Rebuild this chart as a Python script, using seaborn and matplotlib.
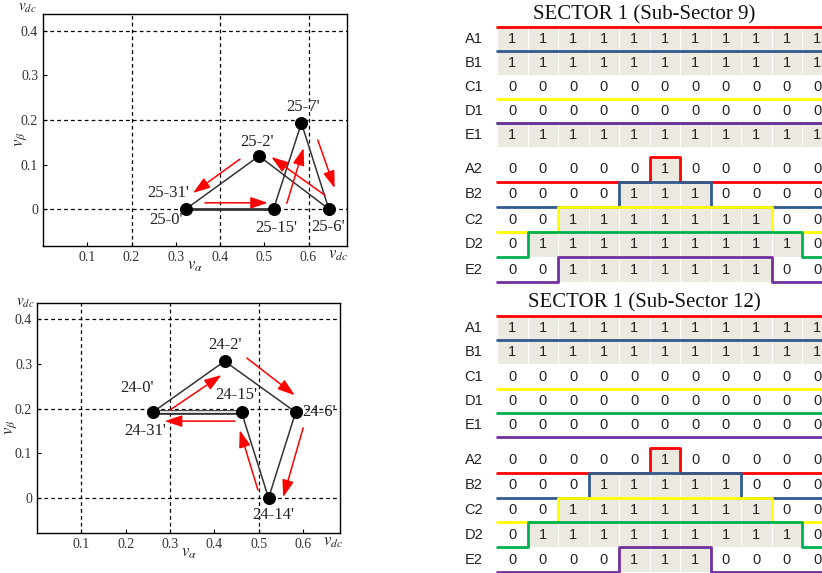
import numpy as np
import matplotlib
matplotlib.use("Agg")
import matplotlib.pyplot as plt
import matplotlib.transforms as mtransforms
from matplotlib import font_manager
from matplotlib.colors import ListedColormap
import seaborn as sns

sns.set_theme(style="white")
plt.rcParams['font.family'] = ['Liberation Serif', 'DejaVu Serif']
plt.rcParams['mathtext.fontset'] = 'stix'

# space vectors, sub-sector 9 (top left)
sv9_names = ["25-0'", "25-2'", "25-6'", "25-7'", "25-15'"]
sv9_alpha = [0.323, 0.488, 0.646, 0.584, 0.521]
sv9_beta = [0.0, 0.119, 0.0, 0.193, 0.0]
sv9_path = [0, 1, 2, 3, 4, 0]
# red arrows (x0, y0, x1, y1)
sv9_arrows = [(0.366, 0.014, 0.508, 0.014),
              (0.551, 0.013, 0.589, 0.137),
              (0.637, 0.031, 0.516, 0.117),
              (0.621, 0.155, 0.659, 0.047),
              (0.445, 0.112, 0.339, 0.036)]

# space vectors, sub-sector 12 (bottom left)
sv12_names = ["24-0'", "24-2'", "24-6'", "24-14'", "24-15'"]
sv12_alpha = [0.261, 0.423, 0.583, 0.522, 0.461]
sv12_beta = [0.192, 0.306, 0.192, 0.0, 0.192]
sv12_path = [0, 1, 2, 3, 4, 0]
sv12_arrows = [(0.300, 0.197, 0.416, 0.275),
               (0.473, 0.313, 0.581, 0.230),
               (0.600, 0.157, 0.555, 0.002),
               (0.498, 0.018, 0.457, 0.152),
               (0.446, 0.172, 0.288, 0.172)]

x_ticks = [0.1, 0.2, 0.3, 0.4, 0.5, 0.6]
y_ticks = [0, 0.1, 0.2, 0.3, 0.4]

# switching states
rows1 = ['A1', 'B1', 'C1', 'D1', 'E1']
rows2 = ['A2', 'B2', 'C2', 'D2', 'E2']
s9_g1 = [[1, 1, 1, 1, 1, 1, 1, 1, 1, 1, 1],
         [1, 1, 1, 1, 1, 1, 1, 1, 1, 1, 1],
         [0, 0, 0, 0, 0, 0, 0, 0, 0, 0, 0],
         [0, 0, 0, 0, 0, 0, 0, 0, 0, 0, 0],
         [1, 1, 1, 1, 1, 1, 1, 1, 1, 1, 1]]
s9_g2 = [[0, 0, 0, 0, 0, 1, 0, 0, 0, 0, 0],
         [0, 0, 0, 0, 1, 1, 1, 0, 0, 0, 0],
         [0, 0, 1, 1, 1, 1, 1, 1, 1, 0, 0],
         [0, 1, 1, 1, 1, 1, 1, 1, 1, 1, 0],
         [0, 0, 1, 1, 1, 1, 1, 1, 1, 0, 0]]
s12_g1 = [[1, 1, 1, 1, 1, 1, 1, 1, 1, 1, 1],
          [1, 1, 1, 1, 1, 1, 1, 1, 1, 1, 1],
          [0, 0, 0, 0, 0, 0, 0, 0, 0, 0, 0],
          [0, 0, 0, 0, 0, 0, 0, 0, 0, 0, 0],
          [0, 0, 0, 0, 0, 0, 0, 0, 0, 0, 0]]
s12_g2 = [[0, 0, 0, 0, 0, 1, 0, 0, 0, 0, 0],
          [0, 0, 0, 1, 1, 1, 1, 1, 0, 0, 0],
          [0, 0, 1, 1, 1, 1, 1, 1, 1, 0, 0],
          [0, 1, 1, 1, 1, 1, 1, 1, 1, 1, 0],
          [0, 0, 0, 0, 1, 1, 1, 0, 0, 0, 0]]
sig_colors = ['#FF0000', '#2F5B8F', '#FFFF00', '#00B050', '#7030A0']

W, H = 822, 573
fig = plt.figure(figsize=(W / 100, H / 100), dpi=100)

available = {f.name for f in font_manager.fontManager.ttflist}
if 'Liberation Sans Narrow' in available:
    sans, sans_size = 'Liberation Sans Narrow', 11.5
else:
    sans, sans_size = 'Liberation Sans', 10.5


def px_axes(left, top, right, bottom):
    return fig.add_axes([left / W, 1 - bottom / H, (right - left) / W, (bottom - top) / H])


def vector_panel(ax, names, a, b, path, arrows, labels, grid_x, grid_y,
                 xlim, ylim, double_last, vdc_top, vb_x):
    ax.set_xlim(*xlim)
    ax.set_ylim(*ylim)
    for gx in grid_x:
        ax.axvline(gx, color='black', lw=0.9, ls=(0, (3, 2.5)), zorder=1)
    for gy in grid_y:
        ax.axhline(gy, color='black', lw=0.9, ls=(0, (3, 2.5)), zorder=1)

    px = [a[i] for i in path]
    py = [b[i] for i in path]
    sns.lineplot(x=px[:-1], y=py[:-1], sort=False, estimator=None,
                 color='#333333', lw=1.1, ax=ax, zorder=2)
    if double_last:
        ax.plot(px[-2:], py[-2:], color='#333333', lw=3.4, zorder=2,
                solid_capstyle='butt')
        ax.plot(px[-2:], py[-2:], color='white', lw=1.2, zorder=2,
                solid_capstyle='butt')
    else:
        ax.plot(px[-2:], py[-2:], color='#333333', lw=2.0, zorder=2)

    sns.scatterplot(x=a, y=b, color='black', s=75, edgecolor='black',
                    ax=ax, zorder=4)

    for x0, y0, x1, y1 in arrows:
        ax.annotate('', xy=(x1, y1), xytext=(x0, y0),
                    arrowprops=dict(arrowstyle='-|>,head_length=0.65,head_width=0.22',
                                    color='red', lw=1.1, mutation_scale=16,
                                    shrinkA=0, shrinkB=0), zorder=5)

    for text, idx, dx, dy in labels:
        ax.annotate(text, (a[idx], b[idx]), xytext=(dx, dy),
                    textcoords='offset pixels', ha='center', va='center',
                    fontsize=12, color='#222222', zorder=6)

    ax.set_xticks(x_ticks)
    ax.set_xticklabels([f'{t:g}' for t in x_ticks])
    ax.set_yticks(y_ticks)
    ax.set_yticklabels([f'{t:g}' for t in y_ticks])
    ax.tick_params(direction='in', length=3, width=0.8, pad=3.5,
                   labelsize=10, labelcolor='#333333', color='black',
                   bottom=True, left=True)
    for sp in ax.spines.values():
        sp.set_color('black')
        sp.set_linewidth(1.0)

    trans = mtransforms.blended_transform_factory(ax.transData, ax.transAxes)
    ax.text(2 / 3, -0.04, '$v_{dc}$', transform=trans, ha='center', va='center',
            fontsize=12, color='#222222', clip_on=False)
    ax.text(vdc_top[0], vdc_top[1], '$v_{dc}$', transform=ax.transAxes,
            ha='center', va='center', fontsize=11, color='#222222')
    ax.text(0.5, -0.085, r'$v_\alpha$', transform=ax.transAxes,
            ha='center', va='center', fontsize=12, color='#222222')
    ax.text(vb_x, 0.46, r'$v_\beta$', transform=ax.transAxes, rotation=90,
            ha='center', va='center', fontsize=12, color='#222222')


ax1 = px_axes(43, 14, 347, 246)
vector_panel(ax1, sv9_names, sv9_alpha, sv9_beta, sv9_path, sv9_arrows,
             [("25-0'", 0, -20, -11), ("25-31'", 0, -18, 16),
              ("25-2'", 1, -2, 14), ("25-6'", 2, -1, -18),
              ("25-7'", 3, 2, 16), ("25-15'", 4, 3, -19)],
             [0.2, 0.4, 0.6], [0, 0.2, 0.4], (0, 0.687), (-0.083, 0.438),
             False, (-0.05, 1.022), -0.072)

ax2 = px_axes(37, 303, 340, 533)
vector_panel(ax2, sv12_names, sv12_alpha, sv12_beta, sv12_path, sv12_arrows,
             [("24-0'", 0, -16, 24), ("24-31'", 0, -8, -19),
              ("24-2'", 1, 0, 16), ("24-6'", 2, 23, 0),
              ("24-14'", 3, 5, -17), ("24-15'", 4, -5, 17)],
             [0.1, 0.3, 0.5], [0, 0.2, 0.4], (0, 0.683), (-0.078, 0.436),
             True, (-0.04, 0.996), -0.085)

shade = ListedColormap(['white', '#ECEAE0'])


def state_table(top, bottom, grid, rows):
    ncol = len(grid[0])
    ax = px_axes(497, top, 497 + ncol * 30.5, bottom)
    sns.heatmap(np.array(grid), cmap=shade, vmin=0, vmax=1, cbar=False,
                annot=True, fmt='d', linewidths=0.4, linecolor='white',
                annot_kws={'fontfamily': sans, 'fontsize': sans_size,
                           'color': '#222222'},
                xticklabels=False, yticklabels=rows, ax=ax)
    ax.set_yticklabels(rows, rotation=0, fontfamily=sans, fontsize=sans_size,
                       color='#222222')
    ax.tick_params(axis='y', length=0, pad=10)
    for i, (vals, col) in enumerate(zip(grid, sig_colors)):
        ys = [i if v else i + 1 for v in vals]
        ax.step(np.arange(ncol + 1), ys + [ys[-1]], where='post', color=col,
                lw=2.0, clip_on=False, zorder=3 + i)
    return ax


state_table(27, 147, s9_g1, rows1)
state_table(157, 282, s9_g2, rows2)
state_table(316, 437, s12_g1, rows1)
state_table(448, 572, s12_g2, rows2)

fig.text(644 / W, 1 - 15 / H, 'SECTOR 1 (Sub-Sector 9)', ha='center',
         va='center', fontsize=15, color='#111111')
fig.text(644 / W, 1 - 303 / H, 'SECTOR 1 (Sub-Sector 12)', ha='center',
         va='center', fontsize=15, color='#111111')

fig.savefig('out.png', dpi=100)
